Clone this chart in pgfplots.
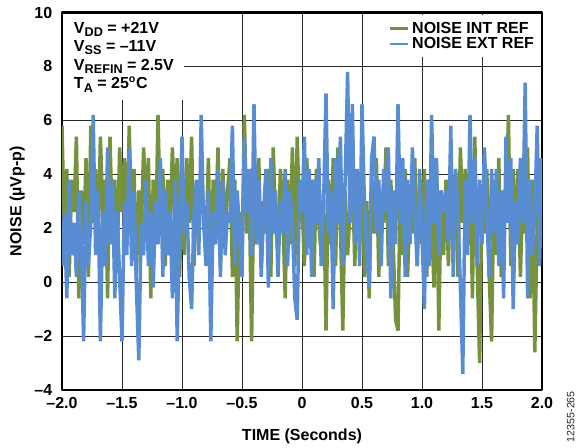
\documentclass[border=0pt]{standalone}
\usepackage{fontspec}
\setmainfont{Liberation Sans}
\usepackage{pgfplots}
\usepackage{pgfplotstable}
\pgfplotsset{compat=1.18}

\definecolor{intref}{RGB}{118,146,60}
\definecolor{extref}{RGB}{88,141,211}
\newcommand{\sub}[1]{\raisebox{-0.4ex}{\fontsize{9.5}{9.5}\selectfont #1}}

% noise in uV p-p (t in seconds)
\pgfplotstableread{
t int ext
-2.00 5.8 0.6
-1.98 1.8 2.6
-1.96 4.2 -0.6
-1.94 0.2 3.8
-1.92 3.8 1.0
-1.90 2.6 2.2
-1.88 5.4 0.2
-1.86 -0.6 3.4
-1.84 3.4 1.8
-1.82 1.4 -2.2
-1.80 4.6 3.0
-1.78 0.2 0.6
-1.76 5.8 2.2
-1.74 2.2 6.2
-1.72 4.2 1.0
-1.70 1.0 3.4
-1.68 5.4 -2.2
-1.66 2.6 2.6
-1.64 3.8 0.6
-1.62 -0.6 5.0
-1.60 5.4 1.4
-1.58 1.8 3.8
-1.56 3.8 -0.6
-1.54 0.6 2.6
-1.52 5.0 0.2
-1.50 2.6 -2.2
-1.48 4.6 3.0
-1.46 1.4 1.0
-1.44 5.8 5.0
-1.42 2.2 0.6
-1.40 4.2 3.4
-1.38 0.2 -0.2
-1.36 3.4 -2.9
-1.34 1.8 2.2
-1.32 5.0 1.0
-1.30 2.6 3.8
-1.28 4.6 0.6
-1.26 -0.6 2.6
-1.24 3.8 -0.2
-1.22 1.4 3.0
-1.20 6.2 1.4
-1.18 2.2 4.6
-1.16 4.2 0.2
-1.14 0.6 3.4
-1.12 3.8 1.0
-1.10 1.8 2.6
-1.08 5.0 -0.6
-1.06 2.6 3.8
-1.04 4.6 -2.2
-1.02 0.2 2.2
-1.00 3.8 5.4
-0.98 1.0 1.8
-0.96 4.6 3.0
-0.94 2.2 0.2
-0.92 5.4 -1.0
-0.90 0.6 2.6
-0.88 3.4 3.8
-0.86 1.8 1.0
-0.84 4.2 6.2
-0.82 2.6 2.2
-0.80 1.4 0.6
-0.78 4.6 3.4
-0.76 -0.2 -2.2
-0.74 3.8 2.6
-0.72 2.2 1.4
-0.70 5.0 4.2
-0.68 0.6 0.2
-0.66 4.2 3.8
-0.64 1.8 1.0
-0.62 3.4 2.6
-0.60 4.6 2.2
-0.58 0.2 5.8
-0.56 3.8 0.6
-0.54 -2.2 3.4
-0.52 2.6 1.8
-0.50 1.0 0.2
-0.48 6.2 5.4
-0.46 1.8 2.6
-0.44 3.4 4.2
-0.42 -2.2 1.0
-0.40 3.8 6.6
-0.38 1.4 1.4
-0.36 4.6 3.8
-0.34 0.6 0.2
-0.32 3.0 2.6
-0.30 1.8 4.2
-0.28 4.2 -0.2
-0.26 0.2 4.6
-0.24 5.0 1.8
-0.22 2.2 3.4
-0.20 1.0 0.2
-0.18 4.2 3.0
-0.16 2.6 1.8
-0.14 -0.6 4.2
-0.12 3.8 0.6
-0.10 1.4 3.4
-0.08 5.0 2.2
-0.06 0.6 -0.6
-0.04 5.4 -1.4
-0.02 2.2 3.8
0.00 3.0 2.6
0.02 0.6 5.4
0.04 4.6 1.0
0.06 1.8 4.2
0.08 3.8 0.2
0.10 0.2 3.8
0.12 4.2 2.2
0.14 2.2 4.6
0.16 1.0 0.6
0.18 3.4 3.0
0.20 -1.8 7.0
0.22 3.8 1.8
0.24 1.4 3.4
0.26 4.6 -1.0
0.28 0.6 4.6
0.30 5.0 2.2
0.32 2.2 5.4
0.34 -1.8 0.6
0.36 3.4 3.8
0.38 1.0 7.8
0.40 2.6 2.2
0.42 4.2 6.6
0.44 0.6 1.4
0.46 3.8 4.2
0.48 1.4 0.6
0.50 4.6 6.6
0.52 0.2 3.0
0.54 3.0 1.0
0.56 -0.6 -0.2
0.58 3.8 4.6
0.60 1.8 5.4
0.62 4.6 1.8
0.64 0.2 3.8
0.66 3.4 0.6
0.68 2.2 4.2
0.70 5.0 2.6
0.72 0.6 5.0
0.74 3.8 -0.6
0.76 1.4 3.4
0.78 -1.4 1.4
0.80 -1.8 6.6
0.82 3.8 2.2
0.84 1.0 4.6
0.86 4.2 0.2
0.88 0.2 3.8
0.90 3.0 1.4
0.92 1.8 5.0
0.94 4.6 2.6
0.96 0.6 0.6
0.98 3.4 4.2
1.00 1.4 1.8
1.02 4.2 -1.0
1.04 0.2 3.8
1.06 3.8 0.6
1.08 2.2 6.2
1.10 -0.2 2.2
1.12 4.6 4.6
1.14 -1.8 1.0
1.16 3.4 3.4
1.18 1.0 2.6
1.20 3.8 3.4
1.22 0.6 1.4
1.24 4.6 5.8
1.26 1.8 0.2
1.28 3.4 4.2
1.30 0.2 2.6
1.32 5.0 -0.2
1.34 2.2 -3.4
1.36 4.2 3.8
1.38 1.4 1.0
1.40 4.6 6.2
1.42 -0.6 2.2
1.44 5.4 4.6
1.46 0.6 0.6
1.48 -3.0 3.8
1.50 3.4 1.4
1.52 1.8 5.0
1.54 4.2 2.6
1.56 0.2 0.2
1.58 -2.2 4.2
1.60 3.8 1.8
1.62 1.0 4.2
1.64 4.6 0.6
1.66 0.2 3.4
1.68 3.4 -0.6
1.70 2.2 5.4
1.72 6.2 2.2
1.74 0.6 4.6
1.76 4.2 -1.0
1.78 1.4 3.0
1.80 4.2 1.4
1.82 0.2 4.6
1.84 3.4 2.2
1.86 1.8 7.4
1.88 5.0 -0.6
1.90 -0.6 3.8
1.92 3.8 1.0
1.94 -2.6 2.6
1.96 2.2 5.8
1.98 4.6 0.6
2.00 3.0 4.6
}\noisedata

\begin{document}
\begin{tikzpicture}[font=\fontsize{12}{13.9}\selectfont\bfseries]
\useasboundingbox (-46.5pt,-43.5pt) rectangle (387pt,292.5pt);
\begin{axis}[
    at={(0pt,0pt)}, anchor=south west,
    scale only axis,
    width=360pt, height=283.1pt,
    xmin=-2, xmax=2, ymin=-4, ymax=10,
    xtick={-2,-1.5,-1,-0.5,0,0.5,1,1.5,2},
    xticklabels={\textendash2.0,\textendash1.5,\textendash1.0,\textendash0.5,0,0.5,1.0,1.5,2.0},
    ytick={-4,-2,2,4,6,8,10},
    yticklabels={\textendash4,\textendash2,2,4,6,8,10},
    extra y ticks={0}, extra y tick labels={0},
    extra y tick style={grid style={black!45, line width=0.75pt}},
    grid=major,
    major grid style={black!85, line width=0.75pt},
    major tick length=0pt,
    axis line style={line width=1.6pt},
    xticklabel style={yshift=-2.3pt},
    yticklabel style={xshift=-3.8pt},
    xlabel={TIME (Seconds)},
    ylabel={NOISE (µVp-p)},
    every axis x label/.style={at={(axis description cs:0.5,-0.1325)}, anchor=base},
    every axis y label/.style={at={(axis description cs:-0.0845,0.5)}, rotate=90, anchor=base},
    legend style={at={(1,1)}, anchor=north east, xshift=-0.8pt, yshift=-2pt,
        draw=none, fill=white, inner xsep=3pt, inner ysep=3pt, row sep=-2.5pt},
    legend cell align=left,
    legend image code/.code={\draw[#1, line width=2pt] (0pt,0pt) -- (14pt,0pt);},
    line join=bevel,
]
\addplot[intref, line width=2.6pt] table[x=t, y=int] {\noisedata};
\addlegendentry{NOISE INT REF}
\addplot[extref, line width=2.6pt] table[x=t, y=ext] {\noisedata};
\addlegendentry{NOISE EXT REF}
\node[anchor=north west, fill=white, align=left, inner xsep=8pt, inner ysep=6pt,
      xshift=0.8pt, yshift=-0.8pt] at (rel axis cs:0,1)
  {V\sub{DD} = +21V\\
   V\sub{SS} = \textendash11V\\
   V\sub{REFIN} = 2.5V\\
   T\sub{A} = 25\textsuperscript{o}C};
\end{axis}
\node[rotate=90, font=\fontsize{8}{8}\selectfont\mdseries, text=black!85] at (381.5pt,-20pt) {12355-265};
\end{tikzpicture}
\end{document}
